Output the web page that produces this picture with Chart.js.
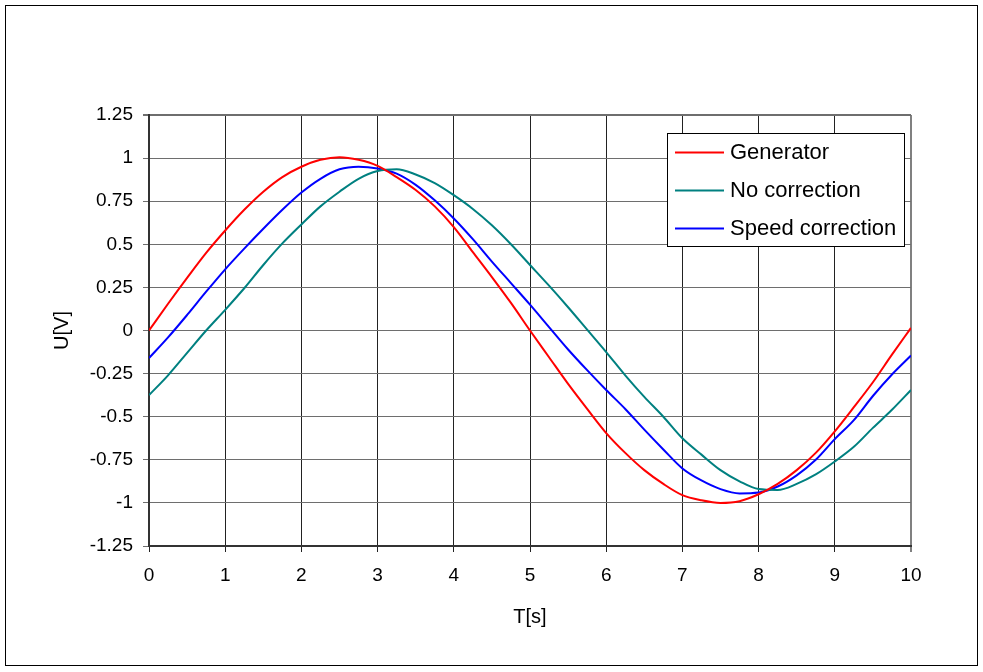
<!DOCTYPE html>
<html lang="en">
<head>
    <meta charset="UTF-8">
    <title>Generator vs correction</title>
    <script src="https://cdn.jsdelivr.net/npm/chart.js"></script>
    <style>
        body { margin: 0; background: #fff; }
        #chart { display: block; }
    </style>
</head>
<body>
    <canvas id="chart" width="983" height="672"></canvas>

    <script>
        // time axis, sampled every 0.25 s
        const times = [0, 0.25, 0.5, 0.75, 1, 1.25, 1.5, 1.75, 2, 2.25, 2.5, 2.75, 3, 3.25, 3.5, 3.75,
            4, 4.25, 4.5, 4.75, 5, 5.25, 5.5, 5.75, 6, 6.25, 6.5, 6.75, 7, 7.25, 7.5, 7.75,
            8, 8.25, 8.5, 8.75, 9, 9.25, 9.5, 9.75, 10];

        // values
        const generator = [0.00, 0.155, 0.305, 0.45, 0.58, 0.70, 0.805, 0.89, 0.95, 0.99, 1.005, 0.99, 0.955, 0.89, 0.815, 0.72,
            0.60, 0.455, 0.31, 0.16, 0.00, -0.155, -0.31, -0.455, -0.595, -0.71, -0.81, -0.89, -0.955, -0.985, -1.0, -0.99,
            -0.95, -0.89, -0.81, -0.71, -0.585, -0.445, -0.30, -0.14, 0.015];
        const noCorrection = [-0.375, -0.26, -0.13, 0.0, 0.12, 0.245, 0.38, 0.505, 0.615, 0.72, 0.805, 0.88, 0.925, 0.935, 0.905, 0.855,
            0.785, 0.705, 0.61, 0.50, 0.38, 0.26, 0.135, 0.005, -0.125, -0.26, -0.385, -0.50, -0.625, -0.72, -0.81, -0.875,
            -0.92, -0.925, -0.89, -0.835, -0.76, -0.675, -0.565, -0.46, -0.345];
        const speedCorrection = [-0.16, -0.04, 0.09, 0.225, 0.355, 0.475, 0.59, 0.70, 0.80, 0.88, 0.935, 0.95, 0.94, 0.91, 0.845, 0.755,
            0.65, 0.53, 0.40, 0.275, 0.15, 0.02, -0.11, -0.23, -0.345, -0.455, -0.575, -0.69, -0.80, -0.87, -0.92, -0.945,
            -0.94, -0.905, -0.84, -0.75, -0.63, -0.52, -0.38, -0.255, -0.145];

        const seriesNames = ['Generator', 'No correction', 'Speed correction'];
        const seriesColors = ['#ff0000', '#008080', '#0000ff'];

        const font = 'Liberation Sans, Arial, sans-serif';

        function toPoints(values) {
            return times.map((t, i) => ({ x: t, y: values[i] }));
        }

        // outer frame around the whole chart
        const framePlugin = {
            id: 'frame',
            beforeDraw(chart) {
                const ctx = chart.ctx;
                ctx.save();
                ctx.fillStyle = '#fff';
                ctx.fillRect(0, 0, chart.width, chart.height);
                ctx.strokeStyle = '#000';
                ctx.lineWidth = 1;
                ctx.strokeRect(5.5, 5.5, 972, 660);
                ctx.restore();
            }
        };

        // boxed legend inside the plot, top right
        const legendBox = {
            id: 'legendBox',
            afterDraw(chart) {
                const ctx = chart.ctx;
                ctx.save();
                ctx.fillStyle = '#fff';
                ctx.fillRect(667.5, 133.5, 237, 113);
                ctx.strokeStyle = '#000';
                ctx.lineWidth = 1;
                ctx.strokeRect(667.5, 133.5, 237, 113);
                ctx.font = '22px ' + font;
                ctx.textBaseline = 'middle';
                ctx.textAlign = 'left';
                chart.data.datasets.forEach((ds, i) => {
                    const y = 152.5 + i * 38;
                    ctx.strokeStyle = ds.borderColor;
                    ctx.lineWidth = 2;
                    ctx.beginPath();
                    ctx.moveTo(675, y);
                    ctx.lineTo(724, y);
                    ctx.stroke();
                    ctx.fillStyle = '#000';
                    ctx.fillText(ds.label, 730, y);
                });
                ctx.restore();
            }
        };

        const datasets = [generator, noCorrection, speedCorrection].map((vals, i) => ({
            label: seriesNames[i],
            data: toPoints(vals),
            borderColor: seriesColors[i],
            borderWidth: 2,
            pointRadius: 0,
            fill: false,
            cubicInterpolationMode: 'monotone'
        }));

        new Chart(document.getElementById('chart'), {
            type: 'line',
            data: { datasets: datasets },
            plugins: [framePlugin, legendBox],
            options: {
                responsive: false,
                animation: false,
                layout: { padding: { left: 40, top: 115, right: 72, bottom: 30 } },
                plugins: {
                    legend: { display: false },
                    tooltip: { enabled: false }
                },
                scales: {
                    x: {
                        type: 'linear',
                        min: 0,
                        max: 10,
                        afterFit: s => { s.height = 96; },
                        ticks: {
                            stepSize: 1,
                            padding: 12,
                            color: '#000',
                            font: { family: font, size: 19 }
                        },
                        grid: {
                            color: ctx => ctx.tick && ctx.tick.value === 10 ? '#808080' : '#222',
                            lineWidth: ctx => ctx.tick && ctx.tick.value === 10 ? 2 : 1,
                            tickLength: 6
                        },
                        border: { color: '#333', width: 2 },
                        title: {
                            display: true,
                            text: 'T[s]',
                            color: '#000',
                            font: { family: font, size: 20 },
                            padding: { top: 0, bottom: 13 }
                        }
                    },
                    y: {
                        min: -1.25,
                        max: 1.25,
                        afterFit: s => { s.width = 109; },
                        ticks: {
                            stepSize: 0.25,
                            padding: 10,
                            color: '#000',
                            font: { family: font, size: 19 },
                            callback: v => String(v)
                        },
                        grid: {
                            color: '#6e6e6e',
                            lineWidth: ctx => ctx.tick && ctx.tick.value === 1.25 ? 2 : 1,
                            tickLength: 6
                        },
                        border: { color: '#333', width: 2 },
                        title: {
                            display: true,
                            text: 'U[V]',
                            color: '#000',
                            font: { family: font, size: 20 },
                            padding: { top: 10, bottom: 0 }
                        }
                    }
                }
            }
        });
    </script>
</body>
</html>
